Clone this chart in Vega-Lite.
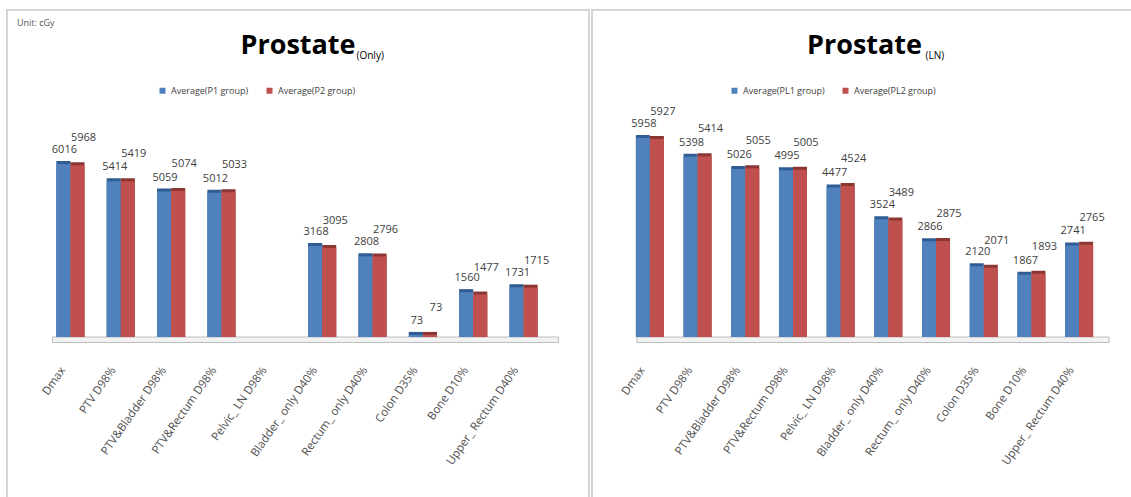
{
  "$schema": "https://vega.github.io/schema/vega-lite/v6.json",
  "background": "white",
  "padding": {"left": 6, "top": 9, "right": 0, "bottom": 0},
  "spacing": 1,
  "title": {
    "text": "Unit: cGy",
    "anchor": "start",
    "font": "Open Sans",
    "fontSize": 9,
    "fontWeight": "normal",
    "color": "#555555",
    "offset": -19,
    "dx": 11
  },
  "datasets": {
    "only": [
      {"metric": "Dmax", "series": "Average(P1 group)", "dose": 6016},
      {"metric": "Dmax", "series": "Average(P2 group)", "dose": 5968},
      {"metric": "PTV D98%", "series": "Average(P1 group)", "dose": 5414},
      {"metric": "PTV D98%", "series": "Average(P2 group)", "dose": 5419},
      {"metric": "PTV&Bladder D98%", "series": "Average(P1 group)", "dose": 5059},
      {"metric": "PTV&Bladder D98%", "series": "Average(P2 group)", "dose": 5074},
      {"metric": "PTV&Rectum D98%", "series": "Average(P1 group)", "dose": 5012},
      {"metric": "PTV&Rectum D98%", "series": "Average(P2 group)", "dose": 5033},
      {"metric": "Bladder_ only D40%", "series": "Average(P1 group)", "dose": 3168},
      {"metric": "Bladder_ only D40%", "series": "Average(P2 group)", "dose": 3095},
      {"metric": "Rectum_ only D40%", "series": "Average(P1 group)", "dose": 2808},
      {"metric": "Rectum_ only D40%", "series": "Average(P2 group)", "dose": 2796},
      {"metric": "Colon D35%", "series": "Average(P1 group)", "dose": 73},
      {"metric": "Colon D35%", "series": "Average(P2 group)", "dose": 73},
      {"metric": "Bone D10%", "series": "Average(P1 group)", "dose": 1560},
      {"metric": "Bone D10%", "series": "Average(P2 group)", "dose": 1477},
      {"metric": "Upper_ Rectum D40%", "series": "Average(P1 group)", "dose": 1731},
      {"metric": "Upper_ Rectum D40%", "series": "Average(P2 group)", "dose": 1715}
    ],
    "ln": [
      {"metric": "Dmax", "series": "Average(PL1 group)", "dose": 5958},
      {"metric": "Dmax", "series": "Average(PL2 group)", "dose": 5927},
      {"metric": "PTV D98%", "series": "Average(PL1 group)", "dose": 5398},
      {"metric": "PTV D98%", "series": "Average(PL2 group)", "dose": 5414},
      {"metric": "PTV&Bladder D98%", "series": "Average(PL1 group)", "dose": 5026},
      {"metric": "PTV&Bladder D98%", "series": "Average(PL2 group)", "dose": 5055},
      {"metric": "PTV&Rectum D98%", "series": "Average(PL1 group)", "dose": 4995},
      {"metric": "PTV&Rectum D98%", "series": "Average(PL2 group)", "dose": 5005},
      {"metric": "Pelvic_ LN D98%", "series": "Average(PL1 group)", "dose": 4477},
      {"metric": "Pelvic_ LN D98%", "series": "Average(PL2 group)", "dose": 4524},
      {"metric": "Bladder_ only D40%", "series": "Average(PL1 group)", "dose": 3524},
      {"metric": "Bladder_ only D40%", "series": "Average(PL2 group)", "dose": 3489},
      {"metric": "Rectum_ only D40%", "series": "Average(PL1 group)", "dose": 2866},
      {"metric": "Rectum_ only D40%", "series": "Average(PL2 group)", "dose": 2875},
      {"metric": "Colon D35%", "series": "Average(PL1 group)", "dose": 2120},
      {"metric": "Colon D35%", "series": "Average(PL2 group)", "dose": 2071},
      {"metric": "Bone D10%", "series": "Average(PL1 group)", "dose": 1867},
      {"metric": "Bone D10%", "series": "Average(PL2 group)", "dose": 1893},
      {"metric": "Upper_ Rectum D40%", "series": "Average(PL1 group)", "dose": 2741},
      {"metric": "Upper_ Rectum D40%", "series": "Average(PL2 group)", "dose": 2765}
    ]
  },
  "resolve": {"scale": {"color": "independent", "xOffset": "independent", "x": "independent", "y": "independent"}},
  "hconcat": [
    {
      "width": 582,
      "height": 495,
      "title": {
        "text": "Prostate",
        "anchor": "middle",
        "font": "Open Sans",
        "fontSize": 27,
        "fontWeight": "bold",
        "color": "#000000",
        "offset": -50
      },
      "layer": [
        {
          "data": {"values": [{"from": "Dmax", "to": "Upper_ Rectum D40%"}]},
          "mark": {"type": "rect", "fill": "#f2f2f2", "stroke": "#bdbdbd", "strokeWidth": 1, "xOffset": -18, "x2Offset": 35},
          "encoding": {
            "x": {"field": "from", "type": "nominal"},
            "x2": {"field": "to"},
            "y": {"datum": 0, "type": "quantitative"},
            "y2": {"datum": -190}
          }
        },
        {
          "data": {"name": "only"},
          "mark": {"type": "bar", "xOffset": 4, "yOffset": -3},
          "encoding": {
            "x": {"field": "metric", "type": "nominal"},
            "xOffset": {"field": "series", "type": "nominal"},
            "y": {"field": "dose", "type": "quantitative"},
            "y2": {"datum": 0},
            "color": {"condition": {"test": "datum.series === 'Average(P1 group)'", "value": "#2f5c92"}, "value": "#8c3634"}
          }
        },
        {
          "data": {"name": "only"},
          "mark": {"type": "bar"},
          "encoding": {
            "x": {"field": "metric", "type": "nominal"},
            "xOffset": {"field": "series", "type": "nominal", "scale": {"domain": ["Average(P1 group)", "Average(P2 group)"], "paddingInner": 0, "paddingOuter": 0}},
            "y": {"field": "dose", "type": "quantitative"},
            "y2": {"datum": 0},
            "color": {
              "field": "series",
              "type": "nominal",
              "scale": {"domain": ["Average(P1 group)", "Average(P2 group)"], "range": ["#4f81bd", "#c0504d"]},
              "legend": {
                "orient": "none",
                "legendX": 151,
                "legendY": 76,
                "direction": "horizontal",
                "title": null,
                "symbolType": "square",
                "symbolSize": 36,
                "symbolStrokeWidth": 0,
                "labelFont": "Open Sans",
                "labelFontSize": 9,
                "labelColor": "#404040",
                "columnPadding": 16
              }
            }
          }
        },
        {
          "data": {"name": "only"},
          "transform": [{"filter": "datum.series === 'Average(P1 group)'"}],
          "mark": {"type": "text", "baseline": "alphabetic", "dy": -11, "dx": 1, "font": "Open Sans", "fontSize": 11, "color": "#404040"},
          "encoding": {
            "x": {"field": "metric", "type": "nominal"},
            "xOffset": {"field": "series", "type": "nominal"},
            "y": {"field": "dose", "type": "quantitative"},
            "text": {"field": "dose", "type": "quantitative", "format": "d"}
          }
        },
        {
          "data": {"name": "only"},
          "transform": [{"filter": "datum.series === 'Average(P2 group)'"}],
          "mark": {"type": "text", "baseline": "alphabetic", "dy": -24, "dx": 6, "font": "Open Sans", "fontSize": 11, "color": "#404040"},
          "encoding": {
            "x": {"field": "metric", "type": "nominal"},
            "xOffset": {"field": "series", "type": "nominal"},
            "y": {"field": "dose", "type": "quantitative"},
            "text": {"field": "dose", "type": "quantitative", "format": "d"}
          }
        }
      ],
      "encoding": {
        "x": {
          "scale": {
            "domain": ["Dmax", "PTV D98%", "PTV&Bladder D98%", "PTV&Rectum D98%", "Pelvic_ LN D98%", "Bladder_ only D40%", "Rectum_ only D40%", "Colon D35%", "Bone D10%", "Upper_ Rectum D40%"],
            "paddingInner": 0.44,
            "paddingOuter": 1.04,
            "align": 0.49
          },
          "axis": {"title": null, "labelAngle": -55, "labelAlign": "right", "labelBaseline": "middle", "labelPadding": 22, "labelOffset": -7, "offset": -159, "domain": false, "ticks": false, "grid": false, "labelFont": "Open Sans", "labelFontSize": 11.5, "labelColor": "#505050"}
        },
        "y": {
          "scale": {"domain": [-5841, 11370], "nice": false, "zero": false},
          "axis": {"title": "(Only)", "titleAngle": 0, "titleX": 349, "titleY": 48, "titleAlign": "left", "titleBaseline": "alphabetic", "titleFont": "Open Sans", "titleFontSize": 10, "titleFontWeight": "normal", "titleColor": "#000000", "labels": false, "ticks": false, "domain": false, "grid": false, "minExtent": 0, "maxExtent": 0, "offset": 0}
        }
      }
    },
    {
      "width": 545,
      "height": 495,
      "title": {
        "text": "Prostate",
        "anchor": "middle",
        "font": "Open Sans",
        "fontSize": 27,
        "fontWeight": "bold",
        "color": "#000000",
        "offset": -50
      },
      "layer": [
        {
          "data": {"values": [{"from": "Dmax", "to": "Upper_ Rectum D40%"}]},
          "mark": {"type": "rect", "fill": "#f2f2f2", "stroke": "#bdbdbd", "strokeWidth": 1, "xOffset": -13, "x2Offset": 30},
          "encoding": {
            "x": {"field": "from", "type": "nominal"},
            "x2": {"field": "to"},
            "y": {"datum": 0, "type": "quantitative"},
            "y2": {"datum": -165}
          }
        },
        {
          "data": {"name": "ln"},
          "mark": {"type": "bar", "xOffset": 4, "yOffset": -3},
          "encoding": {
            "x": {"field": "metric", "type": "nominal"},
            "xOffset": {"field": "series", "type": "nominal"},
            "y": {"field": "dose", "type": "quantitative"},
            "y2": {"datum": 0},
            "color": {"condition": {"test": "datum.series === 'Average(PL1 group)'", "value": "#2f5c92"}, "value": "#8c3634"}
          }
        },
        {
          "data": {"name": "ln"},
          "mark": {"type": "bar"},
          "encoding": {
            "x": {"field": "metric", "type": "nominal"},
            "xOffset": {"field": "series", "type": "nominal", "scale": {"domain": ["Average(PL1 group)", "Average(PL2 group)"], "paddingInner": 0, "paddingOuter": 0}},
            "y": {"field": "dose", "type": "quantitative"},
            "y2": {"datum": 0},
            "color": {
              "field": "series",
              "type": "nominal",
              "scale": {"domain": ["Average(PL1 group)", "Average(PL2 group)"], "range": ["#4f81bd", "#c0504d"]},
              "legend": {
                "orient": "none",
                "legendX": 138,
                "legendY": 76,
                "direction": "horizontal",
                "title": null,
                "symbolType": "square",
                "symbolSize": 36,
                "symbolStrokeWidth": 0,
                "labelFont": "Open Sans",
                "labelFontSize": 9,
                "labelColor": "#404040",
                "columnPadding": 16
              }
            }
          }
        },
        {
          "data": {"name": "ln"},
          "transform": [{"filter": "datum.series === 'Average(PL1 group)'"}],
          "mark": {"type": "text", "baseline": "alphabetic", "dy": -11, "dx": 1, "font": "Open Sans", "fontSize": 11, "color": "#404040"},
          "encoding": {
            "x": {"field": "metric", "type": "nominal"},
            "xOffset": {"field": "series", "type": "nominal"},
            "y": {"field": "dose", "type": "quantitative"},
            "text": {"field": "dose", "type": "quantitative", "format": "d"}
          }
        },
        {
          "data": {"name": "ln"},
          "transform": [{"filter": "datum.series === 'Average(PL2 group)'"}],
          "mark": {"type": "text", "baseline": "alphabetic", "dy": -24, "dx": 6, "font": "Open Sans", "fontSize": 11, "color": "#404040"},
          "encoding": {
            "x": {"field": "metric", "type": "nominal"},
            "xOffset": {"field": "series", "type": "nominal"},
            "y": {"field": "dose", "type": "quantitative"},
            "text": {"field": "dose", "type": "quantitative", "format": "d"}
          }
        }
      ],
      "encoding": {
        "x": {
          "scale": {
            "domain": ["Dmax", "PTV D98%", "PTV&Bladder D98%", "PTV&Rectum D98%", "Pelvic_ LN D98%", "Bladder_ only D40%", "Rectum_ only D40%", "Colon D35%", "Bone D10%", "Upper_ Rectum D40%"],
            "paddingInner": 0.413,
            "paddingOuter": 0.92,
            "align": 0.5
          },
          "axis": {"title": null, "labelAngle": -55, "labelAlign": "right", "labelBaseline": "middle", "labelPadding": 22, "labelOffset": -7, "offset": -159, "domain": false, "ticks": false, "grid": false, "labelFont": "Open Sans", "labelFontSize": 11.5, "labelColor": "#505050"}
        },
        "y": {
          "scale": {"domain": [-5030, 9790], "nice": false, "zero": false},
          "axis": {"title": "(LN)", "titleAngle": 0, "titleX": 333, "titleY": 48, "titleAlign": "left", "titleBaseline": "alphabetic", "titleFont": "Open Sans", "titleFontSize": 10, "titleFontWeight": "normal", "titleColor": "#000000", "labels": false, "ticks": false, "domain": false, "grid": false, "minExtent": 0, "maxExtent": 0, "offset": 0}
        }
      }
    }
  ],
  "config": {
    "view": {"stroke": "#d4d4d4", "strokeWidth": 2, "fill": "white"}
  }
}
